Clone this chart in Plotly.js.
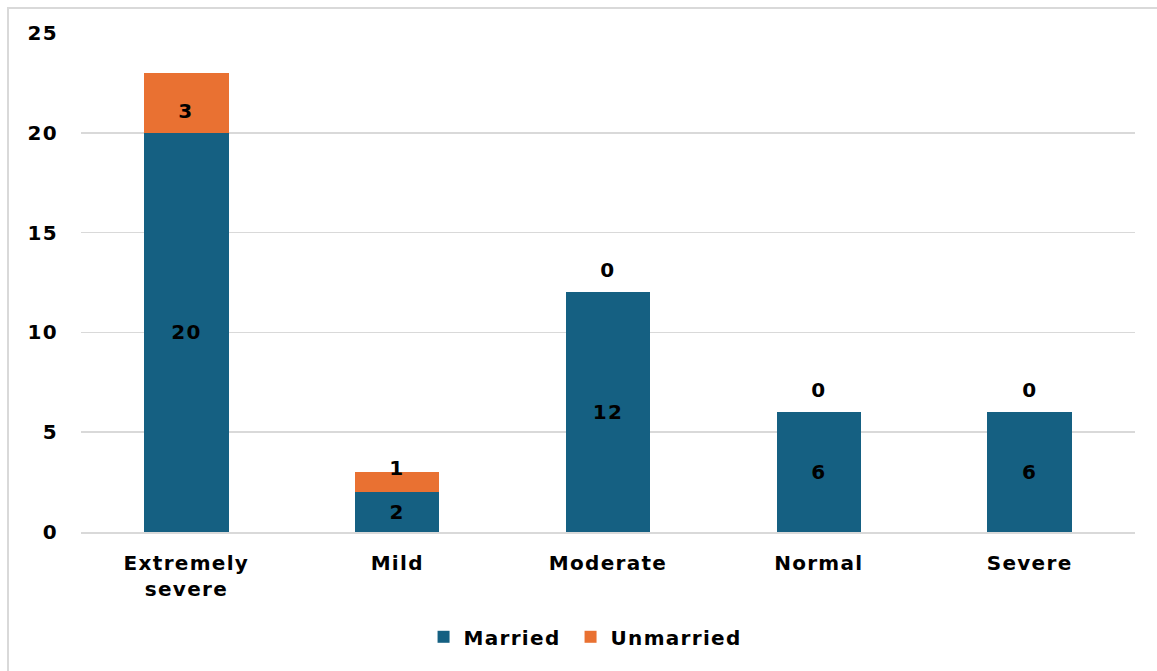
<!DOCTYPE html>
<html>
<head>
<meta charset="utf-8">
<script src="https://cdn.plot.ly/plotly-3.0.1.min.js"></script>
<style>
html,body{margin:0;padding:0;background:#fff;}
#wrap{position:relative;width:1157px;height:671px;overflow:hidden;}
#frame{position:absolute;left:7px;top:7px;width:1170px;height:700px;border:2px solid #d9d9d9;box-sizing:border-box;pointer-events:none;}
#chart{position:absolute;left:0;top:0;width:1157px;height:671px;}
#chart text{letter-spacing:1.3px;}
#chart .legend, #chart .legend *{clip-path:none !important;}
</style>
</head>
<body>
<div id="wrap"><div id="chart"></div><div id="frame"></div></div>
<script>
const categories = ["Extremely<br>severe", "Mild", "Moderate", "Normal", "Severe"];
const married = [20, 2, 12, 6, 6];
const unmarried = [3, 1, 0, 0, 0];
const seriesNames = ["Married", "Unmarried"];
const colors = ["#156082", "#E97132"];
const yTicks = [0, 5, 10, 15, 20, 25];

const FAM = "DejaVu Sans, Arial, sans-serif";
const bold = (size) => ({family: FAM, size: size, color: "#000", weight: 700});

const traces = [
  {type: "bar", name: seriesNames[0], x: categories, y: married,
   marker: {color: colors[0]}, text: married.map(String), textposition: "inside",
   insidetextanchor: "middle", textfont: bold(20), hoverinfo: "x+y"},
  {type: "bar", name: seriesNames[1], x: categories, y: unmarried,
   marker: {color: colors[1]}, hoverinfo: "x+y"}
];

const annotations = categories.map((c, i) => {
  const u = unmarried[i], m = married[i];
  let y, yanchor, yshift = 0;
  if (u === 0) { y = m; yanchor = "bottom"; yshift = 8; }
  else if (u <= 1) { y = m + u; yanchor = "middle"; yshift = 4; }
  else { y = m + u / 2; yanchor = "middle"; yshift = -8; }
  return {x: c, y: y, text: String(u), showarrow: false, yanchor: yanchor, yshift: yshift,
          font: bold(20)};
});

const layout = {
  width: 1157, height: 671,
  margin: {l: 81, r: 22, t: 33, b: 139},
  barmode: "stack",
  bargap: 0.6,
  paper_bgcolor: "#fff", plot_bgcolor: "#fff",
  font: bold(20),
  showlegend: true,
  legend: {orientation: "h", x: 0.325, xanchor: "left", y: -0.21, yanchor: "middle",
           font: bold(20), traceorder: "normal", itemwidth: 30,
           entrywidth: 102, entrywidthmode: "pixels"},
  xaxis: {type: "category", showgrid: false, showline: true, linecolor: "#d9d9d9", linewidth: 2,
          ticks: "", tickfont: bold(20), ticklabelstandoff: 12},
  yaxis: {range: [0, 25], tickvals: yTicks, showgrid: true, gridcolor: "#d9d9d9", gridwidth: 1.5,
          zeroline: false, showline: false, ticks: "", ticklabelstandoff: 22,
          tickfont: bold(20)},
  annotations: annotations
};

Plotly.newPlot("chart", traces, layout, {displayModeBar: false, staticPlot: true});
</script>
</body>
</html>
